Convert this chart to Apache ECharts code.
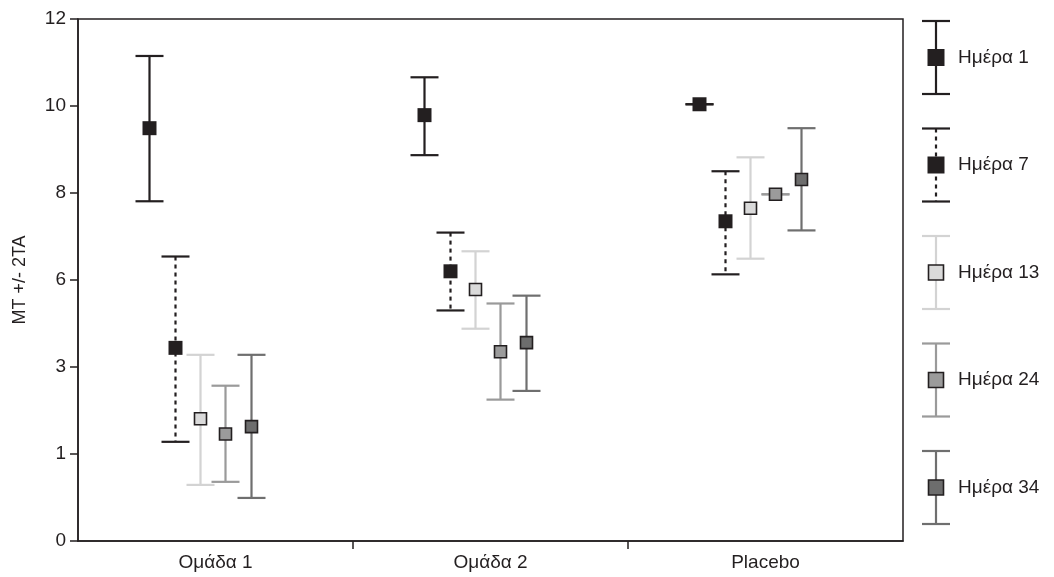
<!DOCTYPE html>
<html>
<head>
<meta charset="utf-8">
<script src="https://cdn.jsdelivr.net/npm/echarts@6/dist/echarts.min.js"></script>
<style>
  html, body { margin: 0; padding: 0; background: #fff; }
  #chart { width: 1054px; height: 577px; }
</style>
</head>
<body>
<div id="chart"></div>
<script>
// groups on the x axis
const groups = ['Ομάδα 1', 'Ομάδα 2', 'Placebo'];
const days = ['Ημέρα 1', 'Ημέρα 7', 'Ημέρα 13', 'Ημέρα 24', 'Ημέρα 34'];
// y tick labels as printed on the original
const yTickLabels = ['0', '1', '3', '6', '8', '10', '12'];

// mean, low (-2TA), high (+2TA) per group
const day1Mean = [9.49, 9.79, 10.04];
const day1Low = [7.81, 8.87, 10.04];
const day1High = [11.15, 10.66, 10.04];

const day7Mean = [4.44, 6.20, 7.35];
const day7Low = [2.28, 5.30, 6.13];
const day7High = [6.54, 7.09, 8.50];

const day13Mean = [2.81, 5.78, 7.65];
const day13Low = [1.29, 4.88, 6.49];
const day13High = [4.28, 6.66, 8.82];

const day24Mean = [2.46, 4.35, 7.97];
const day24Low = [1.36, 3.25, 7.97];
const day24High = [3.57, 5.46, 7.97];

const day34Mean = [2.63, 4.56, 8.31];
const day34Low = [0.99, 3.45, 7.14];
const day34High = [4.28, 5.64, 9.49];

const DARK = '#231f20';
const FONT = '"Liberation Sans", Arial, sans-serif';

// style per day: line colour, dash, marker fill, marker border, x offset inside the group
const styles = [
  {line: DARK, dash: null, fill: DARK, border: null, offset: -66},
  {line: DARK, dash: [4, 4], fill: DARK, border: null, offset: -40},
  {line: '#d3d3d3', dash: null, fill: '#dadada', border: DARK, offset: -15},
  {line: '#9a9a9a', dash: null, fill: '#9b9b9b', border: DARK, offset: 10},
  {line: '#6f6f6f', dash: null, fill: '#6d6d6d', border: DARK, offset: 36}
];

const means = [day1Mean, day7Mean, day13Mean, day24Mean, day34Mean];
const lows = [day1Low, day7Low, day13Low, day24Low, day34Low];
const highs = [day1High, day7High, day13High, day24High, day34High];

function errorBarShapes(x, yHigh, yMean, yLow, st, size) {
  let capW = 14;
  let lineStyle = {stroke: st.line, lineWidth: 2.2, lineDash: st.dash};
  let capStyle = {stroke: st.line, lineWidth: 2.2};
  let out = [
    {type: 'line', shape: {x1: x, y1: yHigh, x2: x, y2: yLow}, style: lineStyle},
    {type: 'line', shape: {x1: x - capW, y1: yHigh, x2: x + capW, y2: yHigh}, style: capStyle},
    {type: 'line', shape: {x1: x - capW, y1: yLow, x2: x + capW, y2: yLow}, style: capStyle},
    {
      type: 'rect',
      shape: {x: x - size / 2, y: yMean - size / 2, width: size, height: size},
      style: {fill: st.fill, stroke: st.border || st.fill, lineWidth: st.border ? 1.6 : 0}
    }
  ];
  return out;
}

function makeRender(st) {
  return function (params, api) {
    let cat = api.value(0);
    let pHigh = api.coord([cat, api.value(3)]);
    let pMean = api.coord([cat, api.value(2)]);
    let pLow = api.coord([cat, api.value(1)]);
    let x = pMean[0] + st.offset;
    let size = st.border ? 12 : 14;
    return {type: 'group', children: errorBarShapes(x, pHigh[1], pMean[1], pLow[1], st, size)};
  };
}

let series = days.map(function (name, i) {
  let data = groups.map(function (g, j) {
    return [j, lows[i][j], means[i][j], highs[i][j]];
  });
  return {
    name: name,
    type: 'custom',
    renderItem: makeRender(styles[i]),
    encode: {x: 0, y: [1, 2, 3]},
    data: data,
    z: 10 - i
  };
});

// legend on the right, drawn as graphic items
let legendItems = [];
let legendTop = 21;
let legendStep = 107.5;
let legendH = 73;
days.forEach(function (name, i) {
  let st = styles[i];
  let top = legendTop + i * legendStep;
  let cx = 936;
  legendItems.push({
    type: 'group',
    children: errorBarShapes(cx, top, top + legendH / 2, top + legendH, st, st.border ? 15 : 17).concat([{
      type: 'text',
      style: {
        x: 958, y: top + legendH / 2, text: name, fill: DARK,
        font: '19px ' + FONT, verticalAlign: 'middle', align: 'left'
      }
    }])
  });
});

let chart = echarts.init(document.getElementById('chart'), null, {renderer: 'canvas'});
chart.setOption({
  backgroundColor: '#fff',
  animation: false,
  grid: {
    left: 78, top: 19, right: 151, bottom: 36,
    show: true, borderColor: DARK, borderWidth: 1.5, backgroundColor: 'transparent'
  },
  xAxis: [{
    type: 'category',
    data: groups,
    axisLine: {lineStyle: {color: DARK, width: 1.5}},
    axisTick: {show: false},
    axisLabel: {color: DARK, fontSize: 19, fontFamily: FONT, margin: 12},
    splitLine: {show: false}
  }, {
    type: 'value',
    position: 'bottom',
    min: 0, max: 3,
    axisLine: {show: false},
    axisTick: {show: true, customValues: [1, 2], length: 8, inside: false, lineStyle: {color: DARK, width: 1.5}},
    axisLabel: {show: false},
    splitLine: {show: false}
  }],
  yAxis: {
    type: 'value',
    min: 0, max: 12, interval: 2,
    name: 'MT +/- 2TA',
    nameLocation: 'middle',
    nameGap: 49,
    nameTextStyle: {color: DARK, fontSize: 18, fontFamily: FONT},
    axisLine: {show: true, lineStyle: {color: DARK, width: 1.5}},
    axisTick: {show: true, length: 8, lineStyle: {color: DARK, width: 1.5}},
    axisLabel: {
      color: DARK, fontSize: 19, fontFamily: FONT, margin: 12,
      formatter: function (v) { return yTickLabels[Math.round(v / 2)]; }
    },
    splitLine: {show: false}
  },
  graphic: legendItems,
  series: series
});
</script>
</body>
</html>
